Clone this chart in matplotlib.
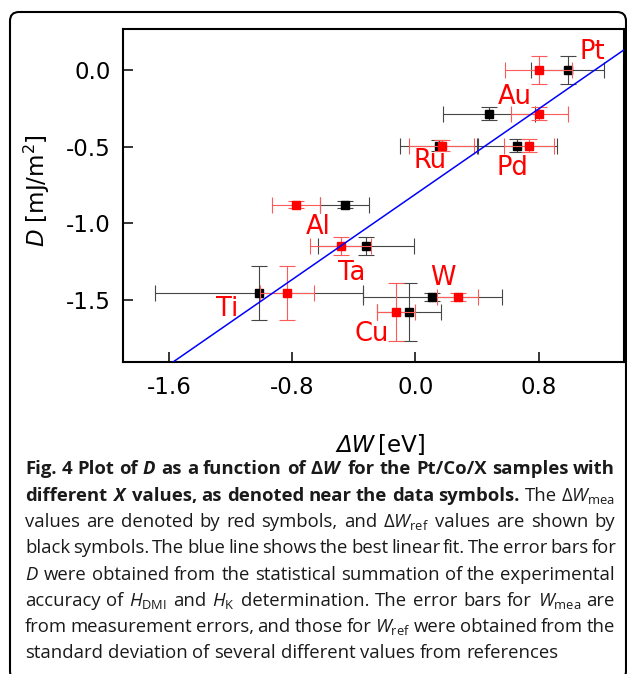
import numpy as np
import matplotlib
matplotlib.use('Agg')
import matplotlib.pyplot as plt
from matplotlib.patches import FancyBboxPatch
from matplotlib.transforms import IdentityTransform

# values
metals = ['Pt', 'Au', 'Ru', 'Pd', 'Al', 'Ta', 'Ti', 'Cu', 'W']
D = [0.0, -0.286, -0.495, -0.495, -0.879, -1.146, -1.454, -1.579, -1.480]
D_err = [0.089, 0.043, 0.036, 0.043, 0.022, 0.060, 0.176, 0.190, 0.027]
dW_mea = [0.801, 0.805, 0.170, 0.736, -0.777, -0.486, -0.835, -0.125, 0.274]
dW_mea_err = [0.219, 0.187, 0.213, 0.163, 0.158, 0.198, 0.177, 0.125, 0.133]
dW_ref = [0.990, 0.478, 0.155, 0.660, -0.460, -0.322, -1.018, -0.042, 0.109]
dW_ref_err = [0.239, 0.298, 0.253, 0.260, 0.158, 0.312, 0.675, 0.210, 0.451]
fit_slope = 0.694
fit_intercept = -0.810

# where the element names sit (baseline)
label_x = [1.148, 0.647, 0.094, 0.632, -0.632, -0.415, -1.228, -0.285, 0.181]
label_y = [0.069, -0.224, -0.640, -0.684, -1.070, -1.368, -1.602, -1.765, -1.402]

xticks = [-1.6, -0.8, 0.0, 0.8]
yticks = [0.0, -0.5, -1.0, -1.5]

caption = [
    (r"Fig. 4 Plot of $\mathbfit{D}$ as a function of Δ$\mathbfit{W}$ for the Pt/Co/X samples with", -1),
    (r"different $\mathbfit{X}$ values, as denoted near the data symbols. The Δ$\mathit{W}_{\mathrm{mea}}$", 9),
    (r"values are denoted by red symbols, and Δ$\mathit{W}_{\mathrm{ref}}$ values are shown by", 0),
    (r"black symbols. The blue line shows the best linear fit. The error bars for", 0),
    (r"$\mathit{D}$ were obtained from the statistical summation of the experimental", 0),
    (r"accuracy of $\mathit{H}_{\mathrm{DMI}}$ and $\mathit{H}_{\mathrm{K}}$ determination. The error bars for $\mathit{W}_{\mathrm{mea}}$ are", 0),
    (r"from measurement errors, and those for $\mathit{W}_{\mathrm{ref}}$ were obtained from the", 0),
    (r"standard deviation of several different values from references", 0),
]

plt.rcParams['axes.unicode_minus'] = False
plt.rcParams['mathtext.fontset'] = 'custom'
plt.rcParams['mathtext.rm'] = 'Open Sans'
plt.rcParams['mathtext.it'] = 'Open Sans:italic'
plt.rcParams['mathtext.bf'] = 'Open Sans:bold'
plt.rcParams['mathtext.bfit'] = 'Open Sans:italic:bold'

W, H = 627, 674
fig = plt.figure(figsize=(W / 100, H / 100), dpi=100)
ax = fig.add_axes([122.7 / W, 1 - 362.3 / H, (624 - 122.7) / W, (362.3 - 29) / H])

ax.errorbar(dW_ref, D, xerr=dW_ref_err, yerr=D_err, fmt='s', color='black', ms=5.3,
            ecolor='#454545', elinewidth=0.8, capsize=5.8, capthick=0.8, zorder=3)
ax.errorbar(dW_mea, D, xerr=dW_mea_err, yerr=D_err, fmt='s', color='red', ms=5.3,
            ecolor='#ff5a5a', elinewidth=0.8, capsize=5.8, capthick=0.8, zorder=4)

ax.set_xlim(-1.904, 1.356)
ax.set_ylim(-1.906, 0.267)
xs = np.array(ax.get_xlim())
ax.plot(xs, fit_slope * xs + fit_intercept, color='#0000ff', lw=1.1, zorder=5)

for name, lx, ly in zip(metals, label_x, label_y):
    ax.text(lx, ly, name, color='red', fontsize=18.5, ha='center', va='baseline', zorder=6)

ax.set_xticks(xticks)
ax.set_yticks(yticks)
ax.xaxis.set_major_formatter(matplotlib.ticker.FormatStrFormatter('%.1f'))
ax.yaxis.set_major_formatter(matplotlib.ticker.FormatStrFormatter('%.1f'))
ax.tick_params(direction='in', length=7.2, width=1.1, labelsize=16.5, top=False, right=False)
ax.tick_params(axis='x', pad=10)
ax.tick_params(axis='y', pad=8.5)
for s in ax.spines.values():
    s.set_linewidth(1.5)

ax.set_ylabel(r'$D$ [mJ/m$^2$]', fontsize=16.5, math_fontfamily='dejavusans')
ax.yaxis.set_label_coords(-0.1416, 0.515)

# x label: italic delta W, upright unit
ax.text(0.5036, -0.269, 'ΔW', transform=ax.transAxes, fontsize=16.5, style='italic',
        ha='right', va='baseline')
ax.text(0.5096, -0.269, '[eV]', transform=ax.transAxes, fontsize=16.5,
        ha='left', va='baseline')

# rounded frame round the figure and caption
box = FancyBboxPatch((10, -6), 616, 668, boxstyle='round,pad=0,rounding_size=9',
                     transform=IdentityTransform(), fill=False, lw=1.5, ec='black')
fig.add_artist(box)

# justified caption
r = fig.canvas.get_renderer()
x0, x1 = 25, 615
size = 13.3
space = size * 100 / 72 * 0.26
for i, (line, nbold) in enumerate(caption):
    words = line.split(' ')
    if nbold < 0:
        nbold = len(words)
    y = H - (474.3 + 26.3 * i)
    texts = []
    for j, w in enumerate(words):
        t = fig.text(0, y, w, transform=IdentityTransform(), fontsize=size, family='Open Sans',
                     weight='bold' if j < nbold else 'normal', va='baseline', color='#1a1a1a')
        texts.append(t)
    widths = [t.get_window_extent(r).width for t in texts]
    if i < len(caption) - 1:
        gap = max((x1 - x0 - sum(widths)) / (len(words) - 1), 0.6 * space)
    else:
        gap = space
    x = x0
    for t, w in zip(texts, widths):
        t.set_x(x)
        x += w + gap

fig.savefig('out.png', dpi=100)
